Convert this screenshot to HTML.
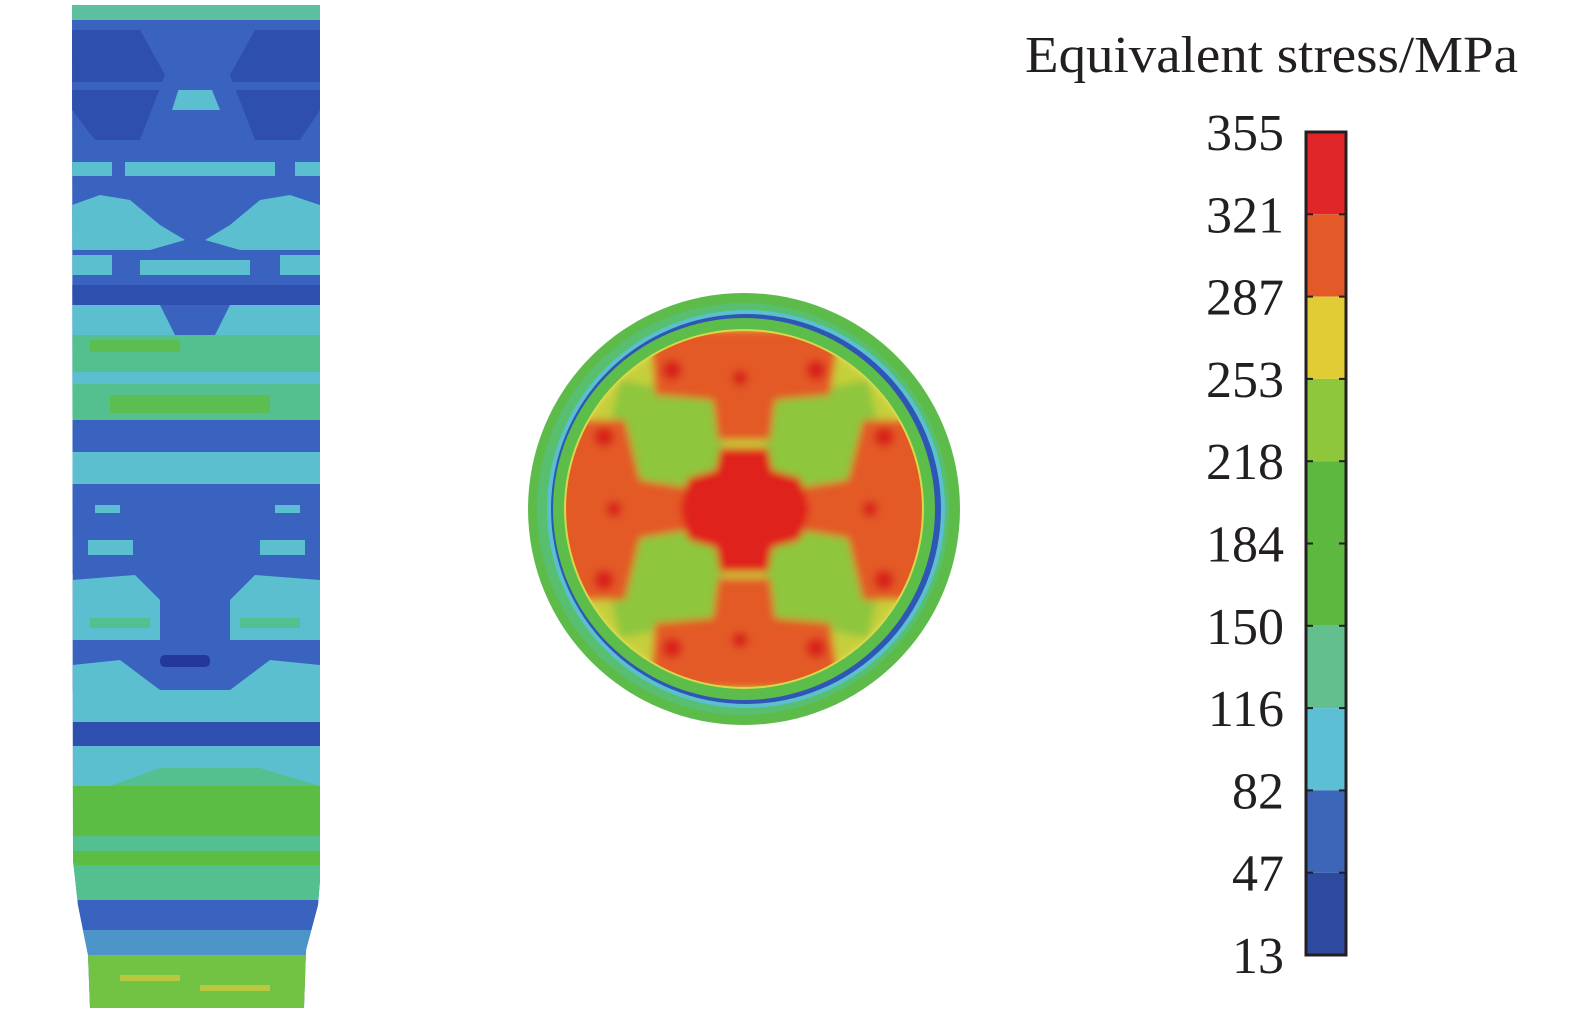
<!DOCTYPE html>
<html><head><meta charset="utf-8">
<style>
html,body{margin:0;padding:0;background:#fff;}
svg{display:block;}
text{font-family:"Liberation Serif",serif;fill:#231f20;}
</style></head>
<body>
<svg id="fig" width="1575" height="1019" viewBox="0 0 1575 1019" xmlns="http://www.w3.org/2000/svg">
<defs>
  <clipPath id="colClip"><polygon points="72,5 320,5 320,880 318,905 306,950 304,1008 90,1008 88,955 78,905 73,860"/></clipPath>
  <clipPath id="inClip"><circle cx="744" cy="509" r="178"/></clipPath>
  <filter id="blur"><feGaussianBlur stdDeviation="4"/></filter>
</defs>

<g clip-path="url(#colClip)">
  <rect x="60" y="0" width="270" height="1019" fill="#3a62bf"/>
  <rect x="60" y="5" width="270" height="15" fill="#5cc0a0"/>
  <polygon points="72,30 140,30 165,75 140,140 95,140 72,110" fill="#2f4fae"/>
  <polygon points="320,30 255,30 230,75 255,140 300,140 320,110" fill="#2f4fae"/>
  <polygon points="180,85 210,85 220,110 172,110" fill="#5bbfd0"/>
  <rect x="72" y="82" width="250" height="8" fill="#3a62bf"/>
  <rect x="72" y="162" width="40" height="14" fill="#5bbfd0"/>
  <rect x="125" y="162" width="150" height="14" fill="#5bbfd0"/>
  <rect x="295" y="162" width="30" height="14" fill="#5bbfd0"/>
  <polygon points="72,205 100,195 130,200 160,225 185,240 150,250 72,250" fill="#5bbfd0"/>
  <polygon points="320,205 290,195 260,200 230,225 205,240 240,250 320,250" fill="#5bbfd0"/>
  <rect x="72" y="255" width="40" height="20" fill="#5bbfd0"/>
  <rect x="140" y="260" width="110" height="15" fill="#5bbfd0"/>
  <rect x="280" y="255" width="40" height="20" fill="#5bbfd0"/>
  <rect x="60" y="285" width="270" height="20" fill="#2f4fae"/>
  <rect x="60" y="305" width="270" height="30" fill="#5bbfd0"/>
  <polygon points="160,305 230,305 215,335 175,335" fill="#3a62bf"/>
  <rect x="60" y="335" width="270" height="85" fill="#55c08f"/>
  <rect x="90" y="340" width="90" height="12" fill="#5cbd50"/>
  <rect x="60" y="372" width="270" height="12" fill="#5bbfd0"/>
  <rect x="110" y="395" width="160" height="18" fill="#5cbd50"/>
  <rect x="60" y="420" width="270" height="32" fill="#3a62bf"/>
  <rect x="60" y="452" width="270" height="32" fill="#5bbfd0"/>
  <rect x="60" y="484" width="270" height="90" fill="#3a62bf"/>
  <rect x="95" y="505" width="25" height="8" fill="#5bbfd0"/>
  <rect x="275" y="505" width="25" height="8" fill="#5bbfd0"/>
  <rect x="88" y="540" width="45" height="15" fill="#5bbfd0"/>
  <rect x="260" y="540" width="45" height="15" fill="#5bbfd0"/>
  <polygon points="72,580 135,575 160,600 160,640 72,640" fill="#5bbfd0"/>
  <polygon points="320,580 255,575 230,600 230,640 320,640" fill="#5bbfd0"/>
  <rect x="90" y="618" width="60" height="10" fill="#55c08f"/>
  <rect x="240" y="618" width="60" height="10" fill="#55c08f"/>
  <rect x="60" y="640" width="270" height="50" fill="#3a62bf"/>
  <rect x="160" y="655" width="50" height="12" rx="5" fill="#24379a"/>
  <polygon points="72,665 120,660 160,690 72,690" fill="#5bbfd0"/>
  <polygon points="320,665 270,660 230,690 320,690" fill="#5bbfd0"/>
  <rect x="60" y="690" width="270" height="32" fill="#5bbfd0"/>
  <rect x="60" y="722" width="270" height="24" fill="#2f4fae"/>
  <rect x="60" y="746" width="270" height="40" fill="#5bbfd0"/>
  <polygon points="110,786 160,768 260,768 320,786" fill="#55c08f"/>
  <rect x="60" y="786" width="270" height="50" fill="#5cbd45"/>
  <rect x="60" y="836" width="270" height="15" fill="#55c08f"/>
  <rect x="60" y="851" width="270" height="14" fill="#5cbd45"/>
  <rect x="60" y="865" width="270" height="35" fill="#55c08f"/>
  <rect x="60" y="900" width="270" height="30" fill="#3a62bf"/>
  <rect x="60" y="930" width="270" height="25" fill="#4d94c8"/>
  <rect x="60" y="955" width="270" height="60" fill="#72c244"/>
  <rect x="120" y="975" width="60" height="6" fill="#b8c840"/>
  <rect x="200" y="985" width="70" height="6" fill="#b8c840"/>
</g>

<g>
  <circle cx="744" cy="509" r="216" fill="#5dbb4a"/>
  <circle cx="743" cy="509" r="206" fill="#58bf70"/>
  <circle cx="746" cy="509" r="199" fill="#5bbfd0"/>
  <circle cx="746" cy="509" r="195" fill="#2f55b5"/>
  <circle cx="744" cy="509" r="191" fill="#5cbd4a"/>
  <circle cx="744" cy="509" r="180" fill="#d8d84a"/>
  <g clip-path="url(#inClip)" filter="url(#blur)">
    <circle cx="744" cy="509" r="178" fill="#c4cf3a"/>
    <g fill="#8ec63c">
      <polygon points="620,380 720,400 725,470 680,490 600,470"/>
      <polygon points="868,380 768,400 763,470 808,490 888,470"/>
      <polygon points="620,638 720,618 725,548 680,528 600,548"/>
      <polygon points="868,638 768,618 763,548 808,528 888,548"/>
    </g>
    <g fill="#e35a28">
      <polygon points="650,330 840,330 830,395 775,400 770,440 718,440 713,400 655,395"/>
      <polygon points="650,688 840,688 830,623 775,618 770,578 718,578 713,618 655,623"/>
      <polygon points="560,420 625,420 640,480 690,488 690,530 640,538 625,600 560,600"/>
      <polygon points="928,420 863,420 848,480 798,488 798,530 848,538 863,600 928,600"/>
    </g>
    <polygon points="720,448 768,448 772,470 800,478 810,509 800,540 772,548 768,572 720,572 716,548 688,540 680,509 688,478 716,470" fill="#e0221f"/>
    <g fill="#d8201f">
      <circle cx="672" cy="370" r="10"/><circle cx="816" cy="370" r="10"/>
      <circle cx="604" cy="437" r="10"/><circle cx="884" cy="437" r="10"/>
      <circle cx="604" cy="580" r="10"/><circle cx="884" cy="580" r="10"/>
      <circle cx="672" cy="648" r="10"/><circle cx="816" cy="648" r="10"/>
      <circle cx="740" cy="378" r="8"/><circle cx="740" cy="640" r="8"/>
      <circle cx="614" cy="509" r="8"/><circle cx="870" cy="509" r="8"/>
    </g>
  </g>
</g>

<g id="colorbar"></g>
<text id="cb-title" x="1025" y="72" font-size="52" textLength="493" lengthAdjust="spacingAndGlyphs">Equivalent stress/MPa</text>
</svg>
<script>
const tickLabels = ["355","321","287","253","218","184","150","116","82","47","13"];
const segmentColors = ["#e02628","#e35a28","#e0cc35","#8ec63c","#5cb83f","#5cb83f","#63c08e","#5dbfd3","#3d66b8","#2e4a9e"];
const barTop = 132, barBottom = 955, barX = 1306, barW = 40;
const NS = "http://www.w3.org/2000/svg";
const cb = document.getElementById('colorbar');
const n = segmentColors.length;
function yScale(i){ return barTop + (barBottom - barTop) * i / n; }
segmentColors.forEach((c, i) => {
  const r = document.createElementNS(NS, 'rect');
  r.setAttribute('x', barX); r.setAttribute('y', yScale(i));
  r.setAttribute('width', barW); r.setAttribute('height', yScale(i+1) - yScale(i));
  r.setAttribute('fill', c);
  
  
  cb.appendChild(r);
});
tickLabels.forEach((t, i) => {
  const y = yScale(i);
  if (i > 0 && i < n) {
    [[barX, barX + 7], [barX + barW - 7, barX + barW]].forEach(p => {
      const l = document.createElementNS(NS, 'line');
      l.setAttribute('x1', p[0]); l.setAttribute('x2', p[1]);
      l.setAttribute('y1', y); l.setAttribute('y2', y);
      l.setAttribute('stroke', '#231f20'); l.setAttribute('stroke-width', '2');
      
      
      cb.appendChild(l);
    });
  }
  const tx = document.createElementNS(NS, 'text');
  tx.setAttribute('x', 1284); tx.setAttribute('y', y + 18);
  tx.setAttribute('text-anchor', 'end'); tx.setAttribute('font-size', '52');
  tx.textContent = t;
  
  
  cb.appendChild(tx);
});
const frame = document.createElementNS(NS, 'rect');
frame.setAttribute('x', barX); frame.setAttribute('y', barTop);
frame.setAttribute('width', barW); frame.setAttribute('height', barBottom - barTop);
frame.setAttribute('fill', 'none'); frame.setAttribute('stroke', '#231f20'); frame.setAttribute('stroke-width', '3');


cb.appendChild(frame);
</script>
</body></html>
